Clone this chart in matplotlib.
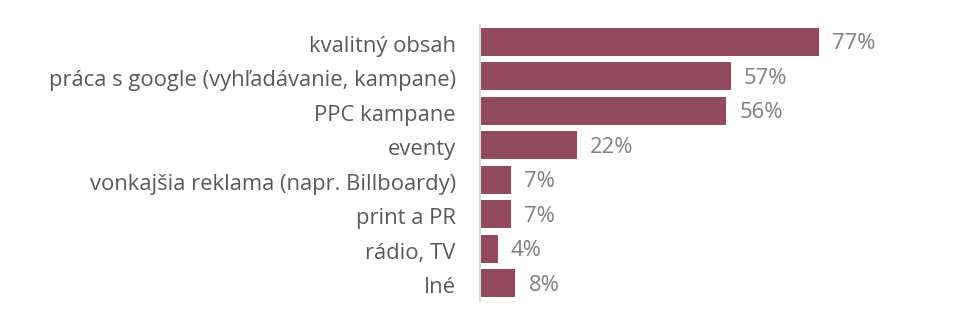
import matplotlib.pyplot as plt
import matplotlib.transforms as mtransforms
import numpy as np

plt.rcParams["font.family"] = ["Open Sans", "DejaVu Sans"]

BAR = "#934A5F"
AXIS = "#D9D9D9"
LABEL = "#595959"
VALUE = "#7F7F7F"

categories = [
    "kvalitný obsah",
    "práca s google (vyhľadávanie, kampane)",
    "PPC kampane",
    "eventy",
    "vonkajšia reklama (napr. Billboardy)",
    "print a PR",
    "rádio, TV",
    "Iné",
]
values = [77, 57, 56, 22, 7, 7, 4, 8]

W, H = 954, 326
fig = plt.figure(figsize=(W / 100, H / 100), dpi=100)
ax = fig.add_axes([480 / W, (H - 300.5) / H, 440 / W, 275.9 / H])

y = np.arange(len(categories))
ax.barh(y, values, height=0.82, color=BAR)
ax.set_ylim(len(categories) - 0.5, -0.5)
ax.set_xlim(0, 100)

ax.set_yticks(y)
ax.set_yticklabels(categories, fontsize=15.8, color=LABEL)
ax.tick_params(axis="y", length=0, pad=17.5)
ax.set_xticks([])

# nudge text down a little so it sits on the bar centre visually
shift = mtransforms.ScaledTranslation(0, -2 / 100, fig.dpi_scale_trans)
for lbl in ax.get_yticklabels():
    lbl.set_transform(lbl.get_transform() + shift)

for s in ["top", "right", "bottom"]:
    ax.spines[s].set_visible(False)
ax.spines["left"].set_color(AXIS)
ax.spines["left"].set_linewidth(1.5)

for yi, v in zip(y, values):
    ax.text(v + 3, yi, f"{v}%", va="center", ha="left",
            fontsize=15.8, color=VALUE, transform=ax.transData + shift)

fig.savefig("out.png", dpi=100)
